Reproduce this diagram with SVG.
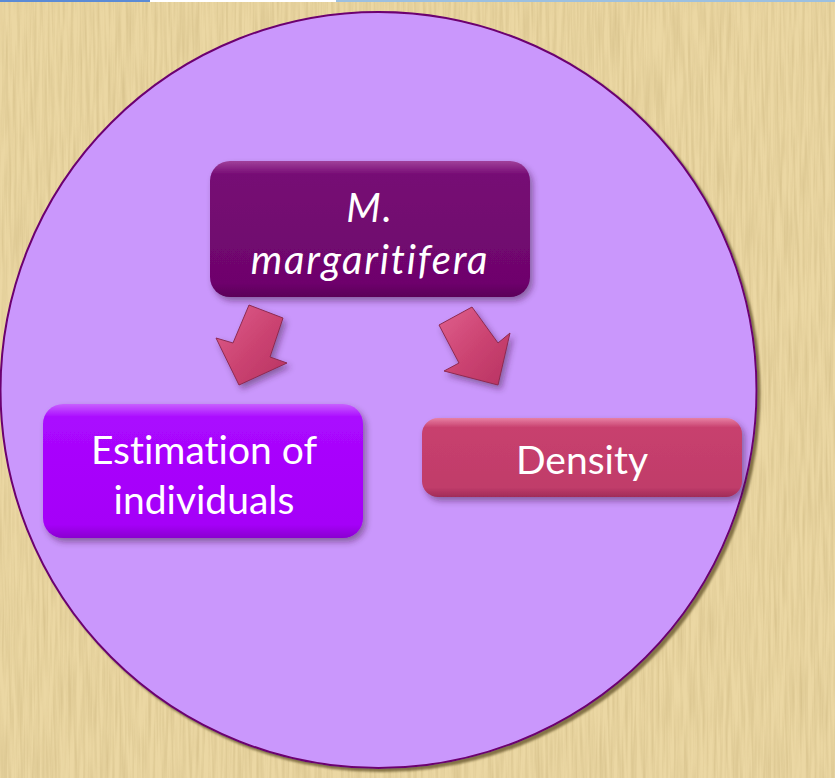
<svg xmlns="http://www.w3.org/2000/svg" width="835" height="778" viewBox="0 0 835 778">
<defs>
<style>
.lbl{font-family:Lato,"Open Sans","Liberation Sans",sans-serif;fill:#ffffff;text-anchor:middle;font-size:39px;font-variant-ligatures:none}
.it{font-style:italic;font-size:40px;letter-spacing:1.8px}
.arrow{fill:url(#arrowGrad);stroke:#8e2a50;stroke-width:1;filter:url(#shadow)}
</style>
<filter id="paper" x="0" y="0" width="100%" height="100%">
<feTurbulence type="fractalNoise" baseFrequency="0.35 0.015" numOctaves="2" seed="3" result="n"/>
<feColorMatrix in="n" type="matrix" values="0 0 0 0 0.55  0 0 0 0 0.42  0 0 0 0 0.18  0 0 0 -1.6 1.05" result="c"/>
<feComposite in="c" in2="SourceGraphic" operator="in"/>
</filter>
<filter id="shadow" x="-20%" y="-20%" width="150%" height="150%">
<feDropShadow dx="3" dy="4" stdDeviation="3" flood-color="#3a1a3a" flood-opacity="0.45"/>
</filter>
<filter id="cshadow" x="-5%" y="-5%" width="110%" height="110%">
<feDropShadow dx="3" dy="3" stdDeviation="1" flood-color="#6b5a30" flood-opacity="0.8"/>
</filter>
<linearGradient id="gTop" x1="0" y1="0" x2="0" y2="1">
<stop offset="0" stop-color="#a0409a"/>
<stop offset="0.1" stop-color="#760b74"/>
<stop offset="0.9" stop-color="#6e056c"/>
<stop offset="1" stop-color="#5a0058"/>
</linearGradient>
<linearGradient id="gLeft" x1="0" y1="0" x2="0" y2="1">
<stop offset="0" stop-color="#c860ff"/>
<stop offset="0.1" stop-color="#aa08ff"/>
<stop offset="0.9" stop-color="#a500f8"/>
<stop offset="1" stop-color="#8a00d0"/>
</linearGradient>
<linearGradient id="gRight" x1="0" y1="0" x2="0" y2="1">
<stop offset="0" stop-color="#e880a4"/>
<stop offset="0.12" stop-color="#c8406e"/>
<stop offset="0.88" stop-color="#c03c6a"/>
<stop offset="1" stop-color="#a02c58"/>
</linearGradient>
<linearGradient id="arrowGrad" x1="0" y1="0" x2="1" y2="1">
<stop offset="0" stop-color="#e0608e"/>
<stop offset="0.5" stop-color="#cc4472"/>
<stop offset="1" stop-color="#b83262"/>
</linearGradient>
</defs>
<rect x="0" y="0" width="835" height="778" fill="#ebd7a3"/>
<rect x="0" y="0" width="835" height="778" fill="#ebd7a3" filter="url(#paper)" opacity="0.5"/>
<rect x="0" y="0" width="150" height="2" fill="#5b8bd6"/>
<rect x="150" y="0" width="186" height="2" fill="#ffffff"/>
<rect x="336" y="0" width="499" height="2" fill="#9cc0e0"/>
<g id="circle">
<circle cx="378.5" cy="390" r="378" fill="#ca97fc" stroke="#6c0070" stroke-width="2" filter="url(#cshadow)"/>
</g>
<g id="connectors">
<polygon class="arrow" points="249,305 283,318 270,357 287,363 239,385 216,338 233,343"/>
<polygon class="arrow" points="439,325 472,307 498,343 510,333 498,385 444,371 459,363"/>
</g>
<g id="node-top">
<rect x="210" y="161" width="320" height="136" rx="20" fill="url(#gTop)" filter="url(#shadow)"/>
<text class="lbl it" x="370" y="222">M.</text>
<text class="lbl it" x="370" y="274">margaritifera</text>
</g>
<g id="node-estimation">
<rect x="43" y="404" width="320" height="134" rx="20" fill="url(#gLeft)" filter="url(#shadow)"/>
<text class="lbl" x="204" y="464">Estimation of</text>
<text class="lbl" x="204" y="514">individuals</text>
</g>
<g id="node-density">
<rect x="422" y="418" width="320" height="79" rx="16" fill="url(#gRight)" filter="url(#shadow)"/>
<text class="lbl" x="582" y="474">Density</text>
</g>
</svg>
